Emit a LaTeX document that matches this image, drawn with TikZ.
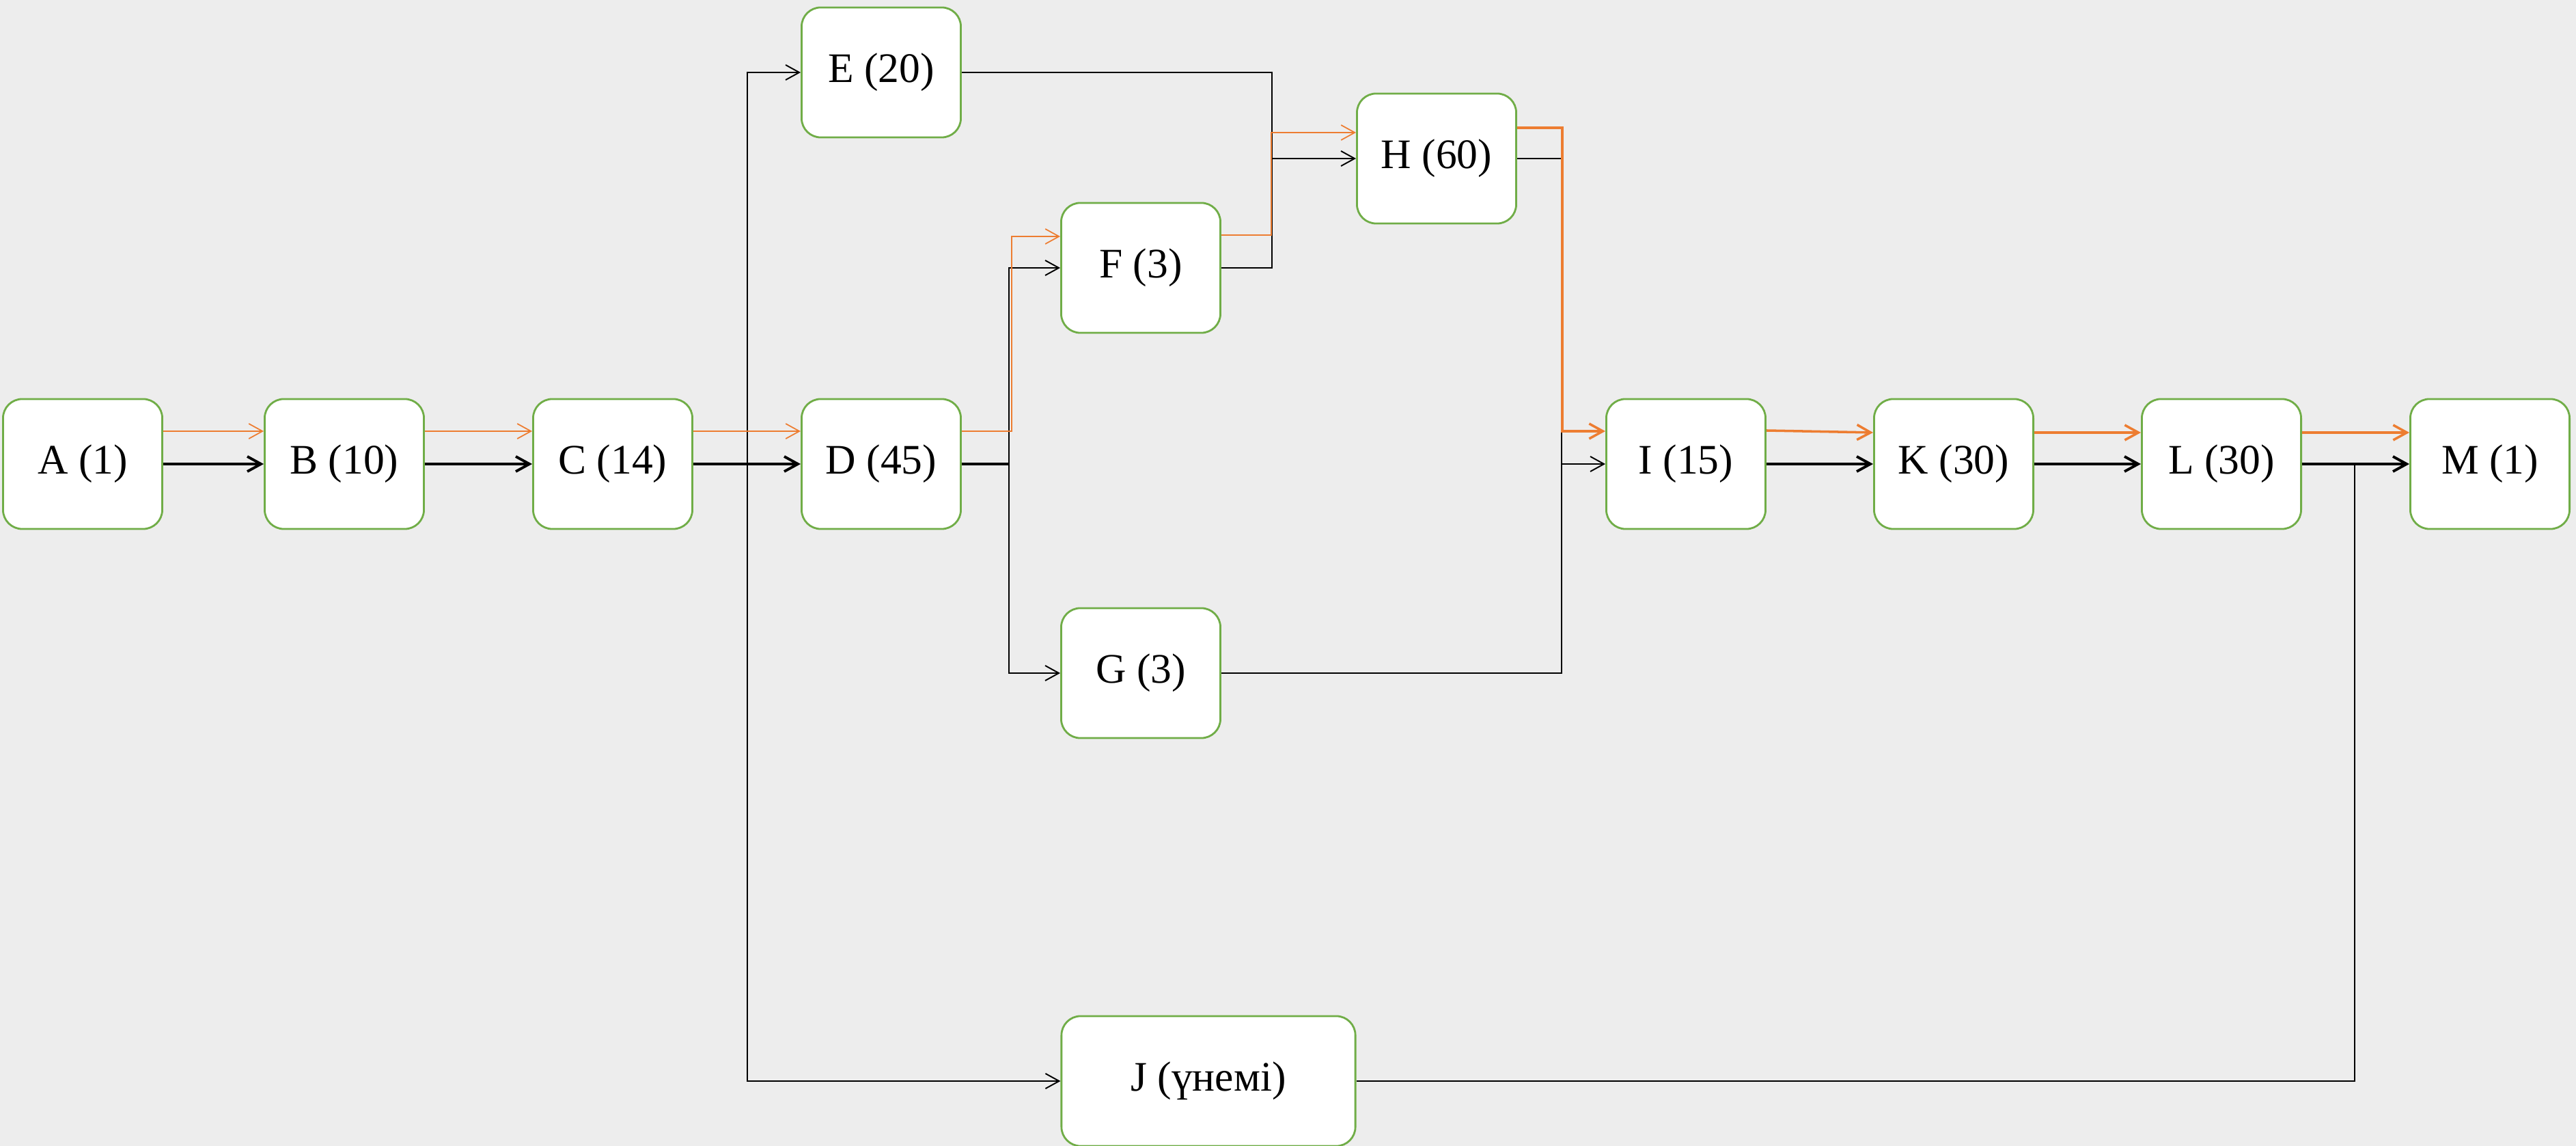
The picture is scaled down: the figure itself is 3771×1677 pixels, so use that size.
\documentclass[tikz,border=0pt]{standalone}
\usepackage{fontspec}
\setmainfont{Liberation Serif}
\usetikzlibrary{arrows.meta,calc}

\definecolor{boxgreen}{RGB}{112,173,71}
\definecolor{critorange}{RGB}{237,125,49}
\definecolor{bggrey}{RGB}{237,237,237}

\tikzstyle{task}=[draw=boxgreen, line width=0.8pt, fill=white, rounded corners=0.28cm, minimum width=2.33cm, minimum height=1.9cm, inner sep=0pt, font=\fontsize{17.5}{21}\selectfont]
\tikzstyle{link}=[line width=0.55pt]
\tikzstyle{dep}=[-{Straight Barb[length=2mm,width=2.2mm]}, line width=0.55pt]
\tikzstyle{depthick}=[dep, line width=1.1pt]
\tikzstyle{crit}=[-{Straight Barb[length=2mm,width=2.2mm]}, critorange, line width=0.5pt]
\tikzstyle{critthick}=[crit, line width=1pt]

\begin{document}
\begin{tikzpicture}[x=0.01cm, y=-0.01cm]
      \fill[bggrey] (0,0) rectangle (3771,1677);
      \useasboundingbox (0,0) rectangle (3771,1677);
      % tasks on the main row
      \foreach \n/\t/\x in {A/A (1)/121, B/B (10)/504, C/C (14)/897, D/D (45)/1290, I/I (15)/2468, K/K (30)/2860, L/L (30)/3252, M/M (1)/3645} {%
        \node[task] (\n) at (\x, 679) {\t};
      }
      \node[task] (E) at (1290, 106) {E (20)};
      \node[task] (F) at (1670, 392) {F (3)};
      \node[task] (G) at (1670, 985) {G (3)};
      \node[task] (H) at (2103, 232) {H (60)};
      \node[task, minimum width=4.3cm] (J) at (1769, 1582) {J (үнемі)};
      % junctions
      \coordinate (cj) at (1094, 679);
      \coordinate (dj) at (1477, 679);
      \coordinate (ej) at (1862, 232);
      \coordinate (hj) at (2286, 679);
      \coordinate (lj) at (3447, 679);
      % black links
      \draw[depthick] (A) -- (B);
      \draw[depthick] (B) -- (C);
      \draw[depthick] (C) -- (D);
      \draw[dep] (cj) |- (E);
      \draw[dep] (cj) |- (J);
      \draw[line width=1.1pt] (D) -- (dj);
      \draw[dep] (dj) |- (F);
      \draw[dep] (dj) |- (G);
      \draw[link] (E) -| (ej);
      \draw[link] (F) -| (ej);
      \draw[dep] (ej) -- (H);
      \draw[link] (H) -| (hj);
      \draw[link] (G) -| (hj);
      \draw[dep] (hj) -- (I);
      \draw[depthick] (I) -- (K);
      \draw[depthick] (K) -- (L);
      \draw[depthick] (L) -- (M);
      \draw[link] (J) -| (lj);
      % critical path
      \draw[crit] ($(A.east)+(0,-48)$) -- ($(B.west)+(0,-48)$);
      \draw[crit] ($(B.east)+(0,-48)$) -- ($(C.west)+(0,-48)$);
      \draw[crit] ($(C.east)+(0,-48)$) -- ($(D.west)+(0,-48)$);
      \draw[crit] ($(D.east)+(0,-48)$) -- ++(73,0) |- ($(F.west)+(0,-46)$);
      \draw[crit] ($(F.east)+(0,-48)$) -- ++(73,0) |- ($(H.west)+(0,-38)$);
      \draw[critthick] ($(H.east)+(0,-45)$) -- ++(66,0) |- ($(I.west)+(0,-48)$);
      \draw[critthick] ($(I.east)+(0,-49)$) -- ($(K.west)+(0,-46)$);
      \draw[critthick] ($(K.east)+(0,-46)$) -- ($(L.west)+(0,-46)$);
      \draw[critthick] ($(L.east)+(0,-46)$) -- ($(M.west)+(0,-46)$);
    \end{tikzpicture}
\end{document}
